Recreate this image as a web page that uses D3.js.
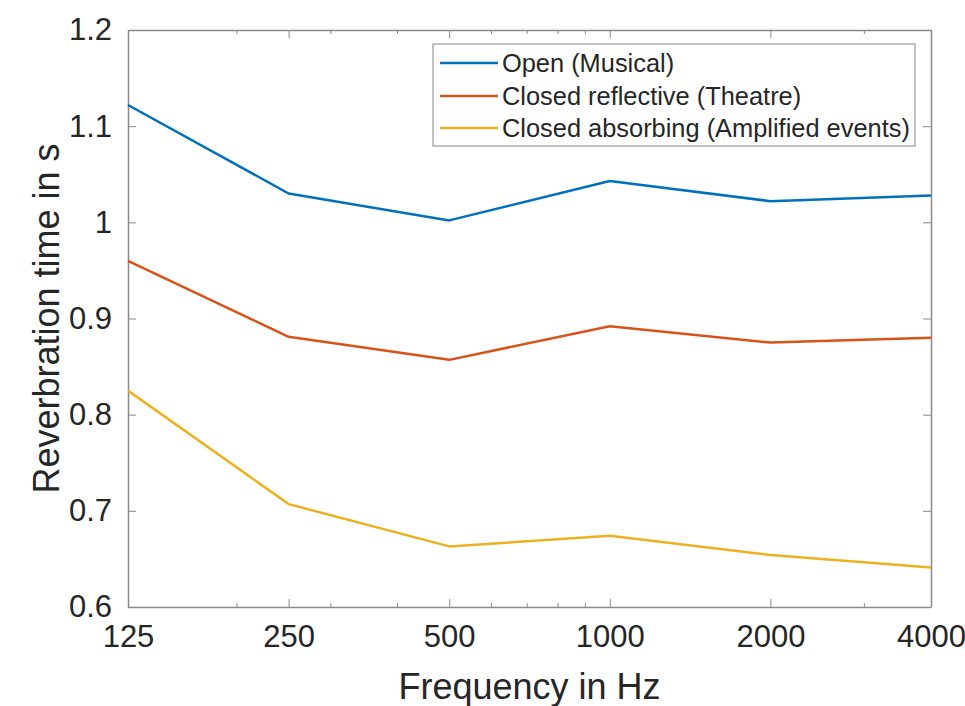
<!DOCTYPE html>
<html>
<head>
<meta charset="utf-8">
<script src="https://cdn.jsdelivr.net/npm/d3@7"></script>
<style>
  html, body { margin: 0; padding: 0; background: #fff; }
  svg { display: block; font-family: "Liberation Sans", Arial, Helvetica, sans-serif; }
</style>
</head>
<body>
<svg id="chart" width="965" height="706"></svg>
<script>
const frequencies = [125, 250, 500, 1000, 2000, 4000];
const openMusical = [1.122, 1.030, 1.002, 1.043, 1.022, 1.028];
const closedReflective = [0.960, 0.881, 0.857, 0.892, 0.875, 0.880];
const closedAbsorbing = [0.825, 0.707, 0.663, 0.674, 0.654, 0.641];
const seriesNames = ["Open (Musical)", "Closed reflective (Theatre)", "Closed absorbing (Amplified events)"];
const seriesColors = ["#0072BD", "#D95319", "#EDB120"];
const xTickLabels = ["125", "250", "500", "1000", "2000", "4000"];
const xMinorTicks = [200, 300, 400, 600, 700, 800, 900, 3000];
const yTicks = [0.6, 0.7, 0.8, 0.9, 1.0, 1.1, 1.2];
const xLabel = "Frequency in Hz";
const yLabel = "Reverbration time in s";

const svg = d3.select("#chart");
const L = 128, R = 931, T = 30, B = 607;
const x = d3.scaleLog().base(2).domain([125, 4000]).range([L, R]);
const y = d3.scaleLinear().domain([0.6, 1.2]).range([B, T]);
const axisColor = "#8a8a8a";
const textColor = "#262626";

svg.append("rect").attr("x", L).attr("y", T).attr("width", R - L).attr("height", B - T).attr("fill", "#fff");

// bottom axis
const gx = svg.append("g").attr("transform", `translate(0,${B})`)
  .call(d3.axisBottom(x).tickValues(frequencies).tickFormat((d, i) => xTickLabels[i]).tickSizeInner(-8).tickSizeOuter(0).tickPadding(18));
gx.select(".domain").attr("stroke", axisColor).attr("stroke-width", 1.5);
gx.selectAll(".tick line").attr("stroke", axisColor);
gx.selectAll(".tick text").attr("font-size", 31).attr("fill", textColor);
// top axis
const gxt = svg.append("g").attr("transform", `translate(0,${T})`)
  .call(d3.axisTop(x).tickValues(frequencies).tickFormat("").tickSizeInner(-8).tickSizeOuter(0));
gxt.select(".domain").attr("stroke", axisColor).attr("stroke-width", 1.5);
gxt.selectAll(".tick line").attr("stroke", axisColor);
// minor ticks
[[B, -4], [T, 4]].forEach(([yy, dy]) => {
  svg.append("g").selectAll("line").data(xMinorTicks).join("line")
    .attr("x1", d => x(d)).attr("x2", d => x(d))
    .attr("y1", yy).attr("y2", yy + dy)
    .attr("stroke", axisColor);
});

// left axis
const gy = svg.append("g").attr("transform", `translate(${L},0)`)
  .call(d3.axisLeft(y).tickValues(yTicks).tickFormat(d => d3.format("")(+d.toFixed(1))).tickSizeInner(-8).tickSizeOuter(0).tickPadding(16));
gy.select(".domain").attr("stroke", axisColor).attr("stroke-width", 1.5);
gy.selectAll(".tick line").attr("stroke", axisColor);
gy.selectAll(".tick text").attr("font-size", 31).attr("fill", textColor);
// right axis
const gyr = svg.append("g").attr("transform", `translate(${R},0)`)
  .call(d3.axisRight(y).tickValues(yTicks).tickFormat("").tickSizeInner(-8).tickSizeOuter(0));
gyr.select(".domain").attr("stroke", axisColor).attr("stroke-width", 1.5);
gyr.selectAll(".tick line").attr("stroke", axisColor);

// lines
const allSeries = [openMusical, closedReflective, closedAbsorbing];
const line = d3.line().x((d, i) => x(frequencies[i])).y(d => y(d));
allSeries.forEach((s, k) => {
  svg.append("path").datum(s).attr("d", line)
    .attr("fill", "none").attr("stroke", seriesColors[k]).attr("stroke-width", 2.5)
    .attr("stroke-linejoin", "round");
});

// axis labels
svg.append("text").attr("x", (L + R) / 2).attr("y", 699).attr("text-anchor", "middle")
  .attr("font-size", 36).attr("fill", textColor).text(xLabel);
svg.append("text").attr("transform", `translate(59,${(T + B) / 2}) rotate(-90)`).attr("text-anchor", "middle")
  .attr("font-size", 36).attr("fill", textColor).text(yLabel);

// legend
const lg = svg.append("g");
lg.append("rect").attr("x", 433).attr("y", 44).attr("width", 482).attr("height", 102)
  .attr("fill", "#fff").attr("stroke", "#9a9a9a").attr("stroke-width", 1.2);
const rowY = [63, 96, 128];
seriesNames.forEach((n, k) => {
  lg.append("line").attr("x1", 440).attr("x2", 498).attr("y1", rowY[k]).attr("y2", rowY[k])
    .attr("stroke", seriesColors[k]).attr("stroke-width", 2.5);
  lg.append("text").attr("x", 502).attr("y", rowY[k]).attr("dy", "0.35em")
    .attr("font-size", 25.4).attr("fill", textColor).text(n);
});
</script>
</body>
</html>
